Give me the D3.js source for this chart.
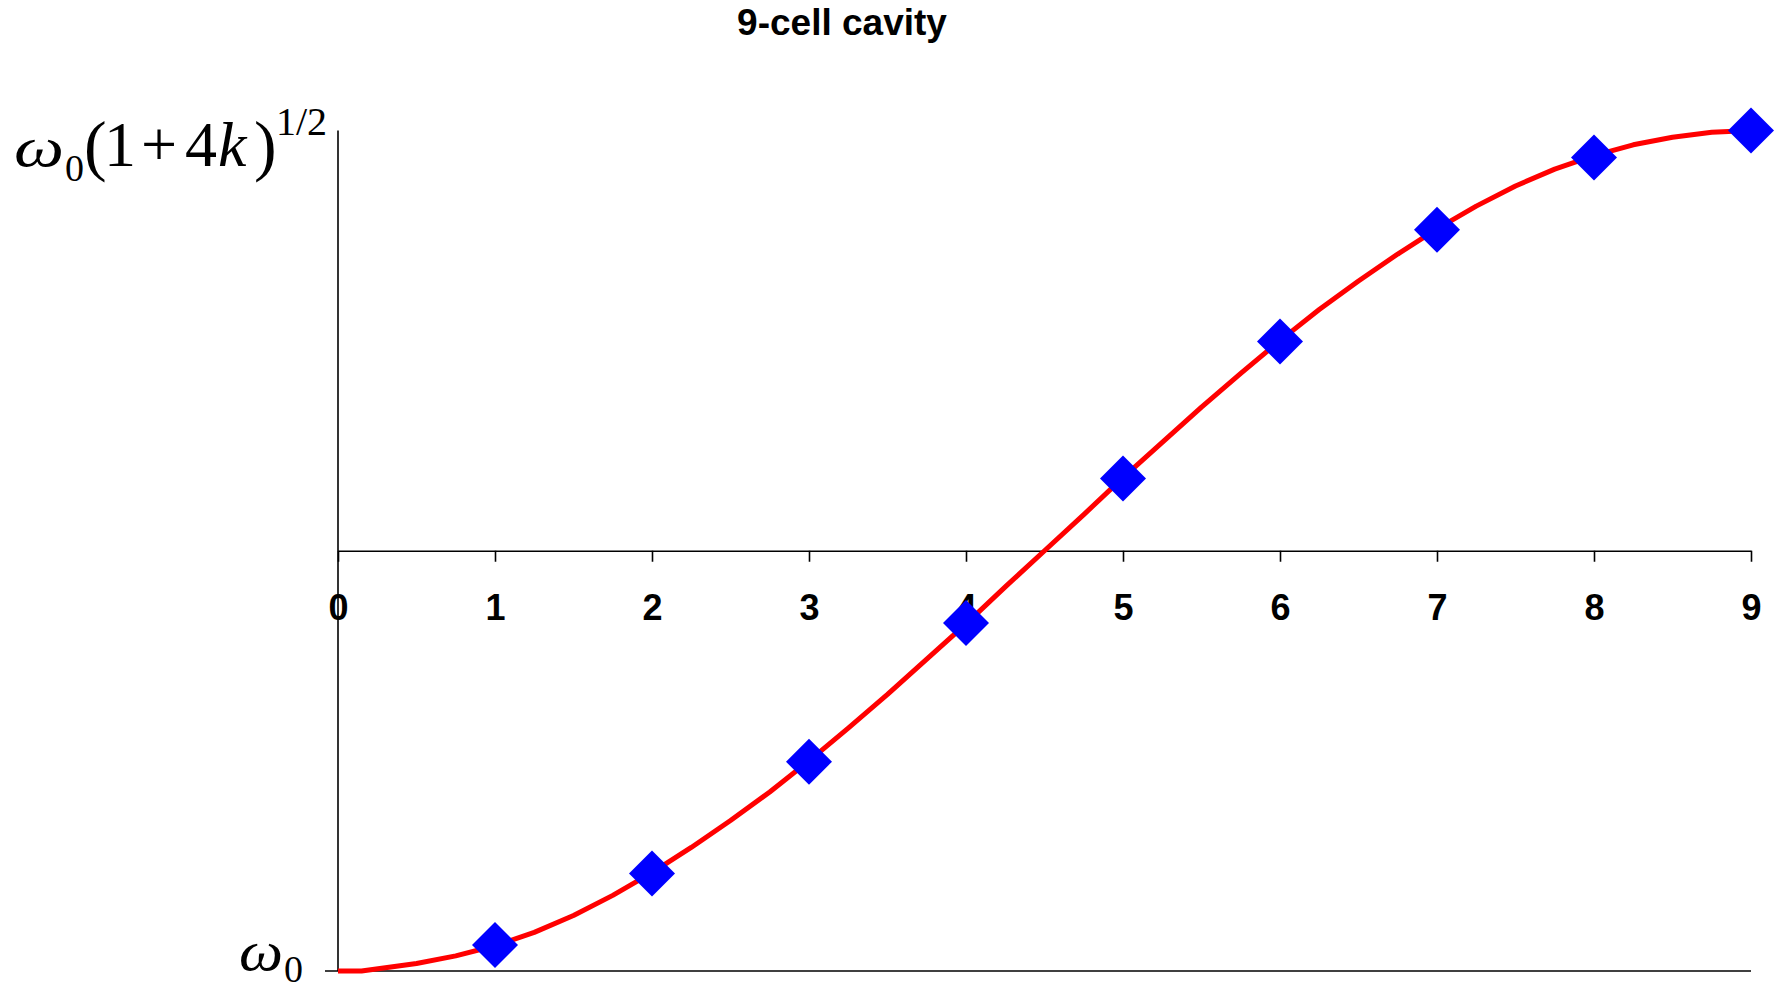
<!DOCTYPE html>
<html>
<head>
<meta charset="utf-8">
<script src="https://cdn.jsdelivr.net/npm/d3@7"></script>
<style>
  body { margin: 0; background: #fff; }
  svg { display: block; }
</style>
</head>
<body>
<script>
// 9-cell cavity dispersion curve, y normalised: 0 = w0, 1 = w0(1+4k)^1/2

var totalWidth = 1781;
var totalHeight = 990;

// mode numbers of the passband (markers)
var modeN = [1, 2, 3, 4, 5, 6, 7, 8, 9];
var modeFreq = [0.031, 0.116, 0.249, 0.414, 0.586, 0.749, 0.882, 0.968, 1.0];

// continuous red curve
var curveX = [0, 0.15, 0.5, 0.75, 1, 1.25, 1.5, 1.75, 2, 2.25, 2.5, 2.75, 3, 3.25, 3.5, 3.75,
              4, 4.25, 4.5, 4.75, 5, 5.25, 5.5, 5.75, 6, 6.25, 6.5, 6.75, 7, 7.25, 7.5, 7.75,
              8, 8.25, 8.5, 8.75, 9];
var curveY = [0, 0, 0.009, 0.018, 0.030, 0.046, 0.066, 0.090, 0.117, 0.147, 0.179, 0.213,
              0.250, 0.289, 0.329, 0.371, 0.413, 0.457, 0.500, 0.543, 0.587, 0.629, 0.671,
              0.711, 0.750, 0.787, 0.821, 0.853, 0.883, 0.910, 0.934, 0.954, 0.970, 0.983,
              0.992, 0.998, 1.0];

var xTicks = [0, 1, 2, 3, 4, 5, 6, 7, 8, 9];

//==============================================================================

var svg = d3.select('body').append('svg')
    .attr('width', totalWidth)
    .attr('height', totalHeight);

var x = d3.scaleLinear().domain([0, 9]).range([338, 1751]);
var y = d3.scaleLinear().domain([0, 1]).range([971, 130.5]);

// title
svg.append('text')
    .attr('x', 842).attr('y', 35)
    .attr('text-anchor', 'middle')
    .style('font-family', '"Liberation Sans", Arial, sans-serif')
    .style('font-weight', 'bold')
    .style('font-size', '37px')
    .text('9-cell cavity');

// vertical axis line
svg.append('line')
    .attr('x1', x(0)).attr('x2', x(0))
    .attr('y1', y(1)).attr('y2', y(0))
    .attr('stroke', '#000').attr('stroke-width', 1.6);

// bottom line at w0
svg.append('line')
    .attr('x1', x(0) - 13).attr('x2', x(9))
    .attr('y1', y(0)).attr('y2', y(0))
    .attr('stroke', '#000').attr('stroke-width', 1.6);

// middle axis with mode numbers
var xAxis = d3.axisBottom(x)
    .tickValues(xTicks)
    .tickFormat(d3.format('d'))
    .tickSize(11)
    .tickSizeOuter(0)
    .tickPadding(33);

var gx = svg.append('g')
    .attr('transform', 'translate(0,' + y(0.5) + ')')
    .call(xAxis);
gx.select('.domain').attr('stroke-width', 1.6);
gx.selectAll('.tick line').attr('stroke-width', 1.6);
gx.selectAll('.tick text')
    .style('font-family', '"Liberation Sans", Arial, sans-serif')
    .style('font-weight', 'bold')
    .style('font-size', '36px')
    .attr('fill', '#000');

// curve
var line = d3.line()
    .x(function(d, i) { return x(curveX[i]); })
    .y(function(d, i) { return y(curveY[i]); });

svg.append('path')
    .datum(curveY)
    .attr('d', line)
    .attr('fill', 'none')
    .attr('stroke', '#ff0000')
    .attr('stroke-width', 5)
    .attr('stroke-linejoin', 'round');

// diamond markers
var r = 23;
svg.selectAll('.mode')
    .data(modeN)
    .enter().append('path')
    .attr('class', 'mode')
    .attr('d', function(d, i) {
        var cx = x(d), cy = y(modeFreq[i]);
        return 'M' + cx + ',' + (cy - r) + 'L' + (cx + r) + ',' + cy +
               'L' + cx + ',' + (cy + r) + 'L' + (cx - r) + ',' + cy + 'Z';
    })
    .attr('fill', '#0000ff');

// y labels (formula style, Times)
var serif = '"Liberation Serif", "Times New Roman", serif';

function piece(g, txt, px, py, size, italic, width) {
    var t = g.append('text')
        .attr('x', px).attr('y', py)
        .style('font-family', serif)
        .style('font-size', size + 'px')
        .style('font-style', italic ? 'italic' : 'normal')
        .text(txt);
    if (width) t.attr('textLength', width).attr('lengthAdjust', 'spacingAndGlyphs');
    return t;
}

var topLabel = svg.append('g');
piece(topLabel, '\u03c9', 14, 166, 58, true, 50);
piece(topLabel, '0', 65, 181, 38, false);
piece(topLabel, '(', 84, 168, 68, false);
piece(topLabel, '1', 104, 166, 64, false);
piece(topLabel, '+', 141, 166, 64, false);
piece(topLabel, '4', 185, 166, 64, false);
piece(topLabel, 'k', 218, 166, 64, true);
piece(topLabel, ')', 254, 168, 68, false);
piece(topLabel, '1/2', 276, 135, 40, false);

var botLabel = svg.append('g');
piece(botLabel, '\u03c9', 239, 970, 58, true, 44);
piece(botLabel, '0', 284, 982, 38, false);
</script>
</body>
</html>
